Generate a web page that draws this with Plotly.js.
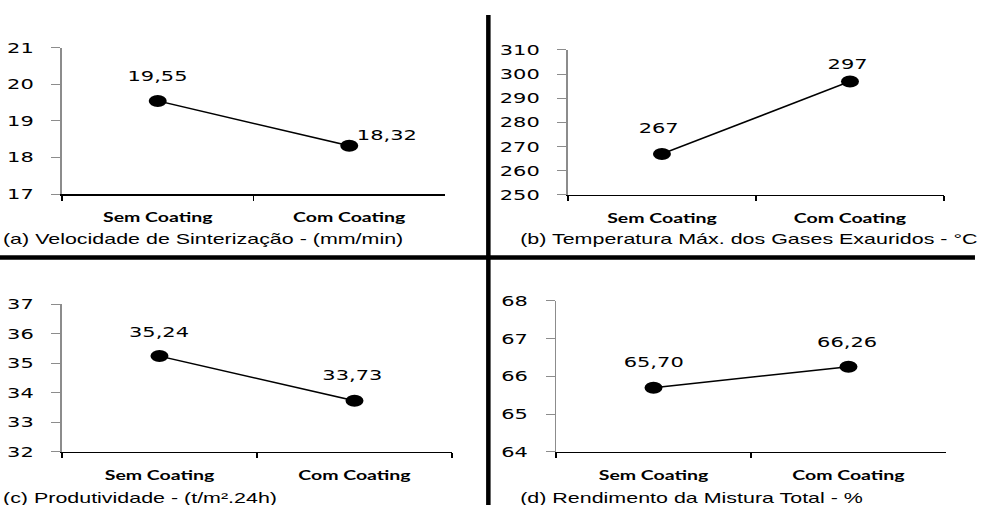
<!DOCTYPE html>
<html>
<head>
<meta charset="utf-8">
<script src="https://cdn.plot.ly/plotly-3.0.1.min.js"></script>
<style>
  html, body { margin: 0; padding: 0; background: #fff; overflow: hidden; }
  #wrap { width: 985px; height: 505px; overflow: hidden; position: relative; }
  #chart { width: 657px; height: 505px; transform-origin: 0 0; transform: scaleX(1.4992); }
</style>
</head>
<body>
<div id="wrap"><div id="chart"></div></div>
<script>
// ---- data ----
const categories = ["Sem Coating", "Com Coating"];
const velocidade = [19.55, 18.32];
const temperatura = [267, 297];
const produtividade = [35.24, 33.73];
const rendimento = [65.70, 66.26];
const decimals = [2, 0, 2, 2];
const panelTitles = [
  "(a) Velocidade de Sinterização - (mm/min)",
  "(b) Temperatura Máx. dos Gases Exauridos - °C",
  "(c) Produtividade - (t/m².24h)",
  "(d) Rendimento da Mistura Total - %"
];
const yRanges = [[17, 21], [250, 310], [32, 37], [64, 68]];
const yDticks = [1, 10, 1, 1];

// ---- layout helpers (styles / positions) ----
const series = [velocidade, temperatura, produtividade, rendimento];
const xDomains = [[0.0629, 0.4518], [0.5766, 0.9584], [0.0629, 0.4589], [0.5645, 0.9604]];
const yDomains = [[0.6158, 0.9050], [0.6139, 0.9010], [0.1050, 0.3980], [0.1050, 0.4040]];
const labelShift = [
  [[0, 25], [25, 11]],
  [[-2, 26], [-1, 17]],
  [[0, 24], [-1, 26]],
  [[0, 26], [-1, 25]]
];
const titlePos = [[0.0005, 1 - 239 / 505], [0.5255, 1 - 239 / 505], [0.0005, 1 - 498 / 505], [0.5245, 1 - 498 / 505]];

const fmt = (v, d) => v.toFixed(d).replace('.', ',');

const traces = [];
const layout = {
  width: 657, height: 505,
  margin: {l: 0, r: 0, t: 0, b: 0},
  paper_bgcolor: '#fff', plot_bgcolor: 'rgba(0,0,0,0)',
  showlegend: false,
  annotations: [],
  shapes: [
    {type: 'line', xref: 'paper', yref: 'paper', x0: 0.4958, x1: 0.4958, y0: 0, y1: 1 - 15 / 505,
     line: {color: '#000', width: 3}},
    {type: 'line', xref: 'paper', yref: 'paper', x0: 0, x1: 975 / 985, y0: 1 - 257.5 / 505, y1: 1 - 257.5 / 505,
     line: {color: '#000', width: 4.5}}
  ]
};

series.forEach((vals, i) => {
  const n = i === 0 ? '' : String(i + 1);
  traces.push({
    type: 'scatter', mode: 'lines+markers',
    x: categories, y: vals,
    xaxis: 'x' + n, yaxis: 'y' + n,
    line: {color: '#000', width: 1.5},
    marker: {color: '#000', size: 12},
    hoverinfo: 'skip'
  });
  layout['xaxis' + n] = {
    domain: xDomains[i], anchor: 'y' + n,
    type: 'category', range: [-0.5, 1.5],
    showline: true, linecolor: '#000', linewidth: 1.5,
    ticks: 'outside', tickson: 'boundaries', ticklen: 5, tickcolor: '#000', tickwidth: 1.3,
    ticklabelstandoff: 11,
    showgrid: false, zeroline: false, fixedrange: true,
    tickfont: {family: 'Lato, "Open Sans", sans-serif', size: 13, color: '#000', weight: 'bold'}
  };
  layout['yaxis' + n] = {
    domain: yDomains[i], anchor: 'x' + n,
    range: yRanges[i], dtick: yDticks[i], tick0: yRanges[i][0],
    showline: true, linecolor: '#8c8c8c', linewidth: 1,
    ticks: 'outside', ticklen: 6, tickcolor: '#8c8c8c', tickwidth: 1,
    ticklabelstandoff: 9,
    showgrid: false, zeroline: false, fixedrange: true,
    tickfont: {family: '"DejaVu Sans", Verdana, sans-serif', size: 14, color: '#000'}
  };
  vals.forEach((v, j) => {
    layout.annotations.push({
      xref: 'x' + n, yref: 'y' + n, x: categories[j], y: v,
      text: fmt(v, decimals[i]), showarrow: false,
      xshift: labelShift[i][j][0], yshift: labelShift[i][j][1],
      font: {family: '"DejaVu Sans", Verdana, sans-serif', size: 14, color: '#000'}
    });
  });
  layout.annotations.push({
    xref: 'paper', yref: 'paper', x: titlePos[i][0], y: titlePos[i][1],
    xanchor: 'left', yanchor: 'middle', showarrow: false,
    text: panelTitles[i],
    font: {family: '"Liberation Sans", Arial, sans-serif', size: 14.3, color: '#000'}
  });
});

Plotly.newPlot('chart', traces, layout, {displayModeBar: false, staticPlot: true});
</script>
</body>
</html>
